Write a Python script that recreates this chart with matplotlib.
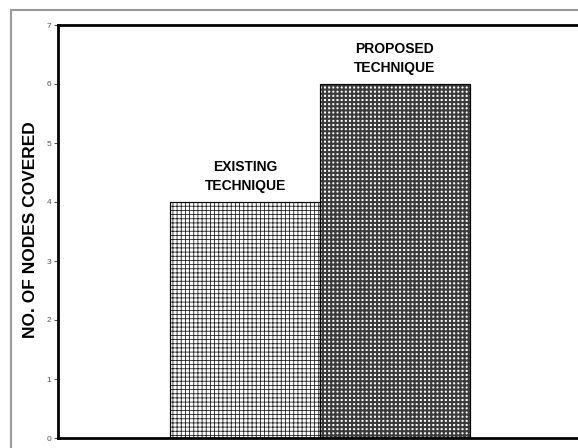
import matplotlib
matplotlib.use("Agg")
import matplotlib.pyplot as plt
from matplotlib.patches import Rectangle

categories = ["EXISTING\nTECHNIQUE", "PROPOSED\nTECHNIQUE"]
values = [4, 6]
yticks = [0, 1, 2, 3, 4, 5, 6, 7]

plt.rcParams['font.family'] = ['Liberation Sans', 'DejaVu Sans']
plt.rcParams['hatch.color'] = 'black'

W, H = 578, 448
fig = plt.figure(figsize=(W / 100, H / 100), dpi=100)
fig.patch.set_facecolor('white')

# outer gray border (partially clipped by image edge)
fig.add_artist(Rectangle((11 / W, -0.1), 1.2, (H - 10) / H + 0.1, transform=fig.transFigure,
                         fill=False, edgecolor='#999999', linewidth=1.5))

ax = fig.add_axes([58 / W, 1 - 438 / H, 524 / W, 413 / H])
ax.set_xlim(0, 3.5)
ax.set_ylim(0, 7)

xs = [1.25, 2.25]
hatches = ['++++', '++++']
lws = [0.6, 1.5]
hcolors = ['#222222', '#3a3a3a']
for x, v, h, lw, hc, lab in zip(xs, values, hatches, lws, hcolors, categories):
    plt.rcParams['hatch.linewidth'] = lw
    ax.bar(x, v, width=1.0, color='white', edgecolor=hc, hatch=h, linewidth=0.8)
    ax.bar(x, v, width=1.0, color='none', edgecolor='black', linewidth=0.8)
    ax.text(x, v + 0.15, lab, ha='center', va='bottom', fontsize=10, fontweight='bold',
            linespacing=1.45)

ax.set_yticks(yticks)
ax.set_yticklabels([str(t) for t in yticks], fontsize=6, color='#555555')
ax.tick_params(axis='y', length=3, width=0.8, color='#555555', pad=2)
ax.set_xticks([])
for s in ['left', 'bottom', 'top']:
    ax.spines[s].set_linewidth(2)
    ax.spines[s].set_color('black')
ax.spines['right'].set_visible(False)

fig.text(31 / W, 1 - 230 / H, "NO. OF NODES COVERED", rotation=90, ha='center', va='center',
         fontsize=12.5, fontweight='bold')

fig.savefig("out.png", dpi=100)
